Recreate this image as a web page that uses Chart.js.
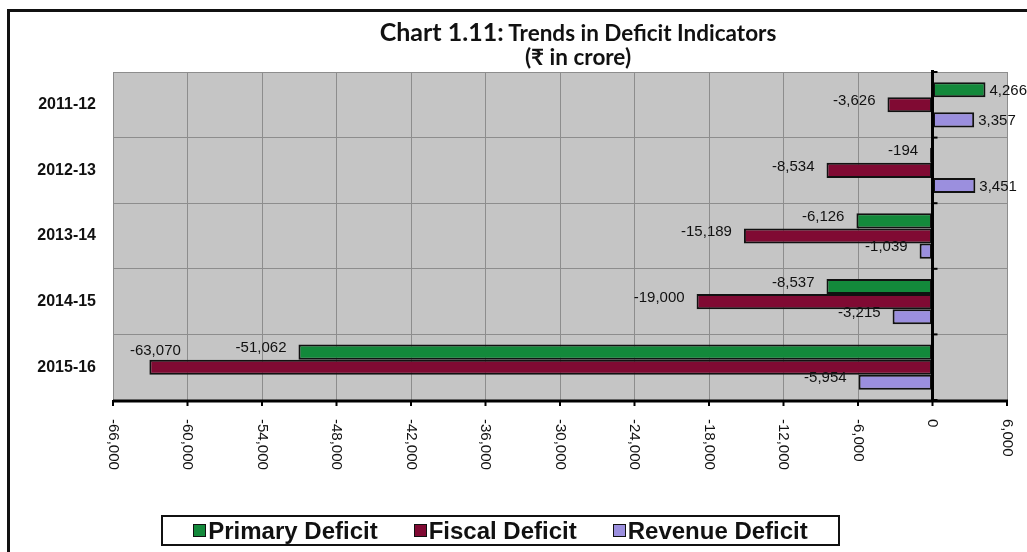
<!DOCTYPE html>
<html>
<head>
<meta charset="utf-8">
<script src="https://cdn.jsdelivr.net/npm/chart.js@4/dist/chart.umd.min.js"></script>
<style>
  body { margin: 0; background: #fff; }
  #wrap { position: relative; width: 1027px; height: 552px; overflow: hidden; background: #fff; }
  #frame { position: absolute; left: 7px; top: 9px; right: -10px; bottom: -10px; border-left: 3px solid #111; border-top: 3px solid #111; }
  #title { position: absolute; left: 278px; top: 19px; width: 600px; text-align: center; font-family: Lato, "Noto Sans", sans-serif; font-weight: bold; color: #111; line-height: 24px; font-size: 22.5px; }
  #title .big { font-size: 25px; }
  #legend { position: absolute; left: 161px; top: 515px; width: 675px; height: 27px; border: 2px solid #111; box-sizing: content-box;
            display: flex; align-items: center; justify-content: center; font-family: "Liberation Sans", Arial, sans-serif; font-weight: bold; font-size: 24px; color: #111; }
  #legend span.item { display: inline-flex; align-items: center; margin: 0 18px; }
  #legend i { display: inline-block; width: 11px; height: 11px; border: 1px solid #111; margin-right: 2px; }
  canvas { position: absolute; left: 0; top: 0; }
</style>
</head>
<body>
<div id="wrap">
  <canvas id="deficitChart" width="1027" height="552"></canvas>
  <div id="frame"></div>
  <div id="title"><span class="big">Chart 1.11:</span> Trends in Deficit Indicators<br>(₹ in crore)</div>
  <div id="legend"></div>
</div>
<script>
// Data (₹ in crore)
var years = ['2011-12', '2012-13', '2013-14', '2014-15', '2015-16'];
var primaryDeficit = [4266, -194, -6126, -8537, -51062];
var fiscalDeficit = [-3626, -8534, -15189, -19000, -63070];
var revenueDeficit = [3357, 3451, -1039, -3215, -5954];
var seriesNames = ['Primary Deficit', 'Fiscal Deficit', 'Revenue Deficit'];
var seriesColors = ['#13893b', '#800a33', '#9b8fde'];

var fmt = new Intl.NumberFormat('en-US');
var labelFont = '15px "Liberation Sans", Arial, sans-serif';

// Build the html legend
var legendEl = document.getElementById('legend');
seriesNames.forEach(function (name, i) {
    var item = document.createElement('span');
    item.className = 'item';
    item.innerHTML = '<i style="background:' + seriesColors[i] + '"></i>' + name;
    legendEl.appendChild(item);
});

// Gray plot background
var plotBackground = {
    id: 'plotBackground',
    beforeDraw: function (chart) {
        var a = chart.chartArea, ctx = chart.ctx;
        ctx.save();
        ctx.fillStyle = '#c5c5c5';
        ctx.fillRect(a.left, a.top, a.right - a.left, a.bottom - a.top);
        ctx.restore();
    }
};

// Axis lines, rotated tick labels and value labels
var axesAndLabels = {
    id: 'axesAndLabels',
    afterDatasetsDraw: function (chart) {
        var ctx = chart.ctx, a = chart.chartArea;
        var xs = chart.scales.x, ys = chart.scales.y;
        var zero = xs.getPixelForValue(0);
        ctx.save();

        // category axis at zero
        ctx.strokeStyle = '#000';
        ctx.lineWidth = 3;
        ctx.beginPath();
        ctx.moveTo(zero, a.top - 2);
        ctx.lineTo(zero, a.bottom);
        ctx.stroke();
        ctx.lineWidth = 2;
        for (var i = 0; i <= years.length; i++) {
            var yb = ys.getPixelForValue(i - 0.5);
            ctx.beginPath();
            ctx.moveTo(zero, yb);
            ctx.lineTo(zero + 5, yb);
            ctx.stroke();
        }

        // value axis at bottom
        ctx.lineWidth = 3;
        ctx.beginPath();
        ctx.moveTo(a.left, a.bottom + 1);
        ctx.lineTo(a.right + 1, a.bottom + 1);
        ctx.stroke();
        ctx.lineWidth = 2;
        xs.ticks.forEach(function (t) {
            var x = xs.getPixelForValue(t.value);
            ctx.beginPath();
            ctx.moveTo(x, a.bottom);
            ctx.lineTo(x, a.bottom + 6);
            ctx.stroke();
        });

        // rotated tick labels, reading downwards
        ctx.fillStyle = '#111';
        ctx.font = labelFont;
        ctx.textAlign = 'left';
        ctx.textBaseline = 'middle';
        xs.ticks.forEach(function (t) {
            var x = xs.getPixelForValue(t.value);
            ctx.save();
            ctx.translate(x, a.bottom + 19);
            ctx.rotate(Math.PI / 2);
            ctx.fillText(fmt.format(t.value), 0, 0);
            ctx.restore();
        });

        // value labels
        chart.data.datasets.forEach(function (ds, di) {
            var meta = chart.getDatasetMeta(di);
            meta.data.forEach(function (el, j) {
                var v = ds.data[j];
                var txt = fmt.format(v);
                var w = ctx.measureText(txt).width;
                if (v < 0) {
                    var tx = el.x - 12;
                    if (tx - w < a.left + 4) {
                        ctx.textAlign = 'center';
                        ctx.fillText(txt, el.x + 6, el.y - el.height / 2 - 9);
                    } else {
                        ctx.textAlign = 'right';
                        ctx.fillText(txt, tx, el.y - 4);
                    }
                } else {
                    ctx.textAlign = 'left';
                    ctx.fillText(txt, el.x + 4, el.y + 1);
                }
            });
        });
        ctx.restore();
    }
};

var ctx = document.getElementById('deficitChart').getContext('2d');
var deficitChart = new Chart(ctx, {
    type: 'bar',
    data: {
        labels: years,
        datasets: [primaryDeficit, fiscalDeficit, revenueDeficit].map(function (d, i) {
            return {
                label: seriesNames[i],
                data: d,
                backgroundColor: seriesColors[i],
                borderColor: '#111',
                borderWidth: 2,
                borderSkipped: false,
                categoryPercentage: 0.69,
                barPercentage: 1.0
            };
        })
    },
    options: {
        indexAxis: 'y',
        responsive: false,
        animation: false,
        layout: { padding: { top: 72, bottom: 152, right: 20, left: 0 } },
        plugins: {
            legend: { display: false },
            tooltip: { enabled: false },
            title: { display: false }
        },
        scales: {
            x: {
                min: -66000,
                max: 6000,
                ticks: { display: false, stepSize: 6000 },
                grid: { color: '#8d8d8d', lineWidth: 1, drawTicks: false },
                border: { display: false },
                afterFit: function (s) { s.height = 0; }
            },
            y: {
                ticks: {
                    color: '#111',
                    padding: 17,
                    font: { family: '"Liberation Sans", Arial, sans-serif', size: 16, weight: 'bold' }
                },
                grid: { color: '#8d8d8d', lineWidth: 1, drawTicks: false, offset: true },
                border: { display: false },
                afterFit: function (s) { s.width = 113; }
            }
        }
    },
    plugins: [plotBackground, axesAndLabels]
});
</script>
</body>
</html>
